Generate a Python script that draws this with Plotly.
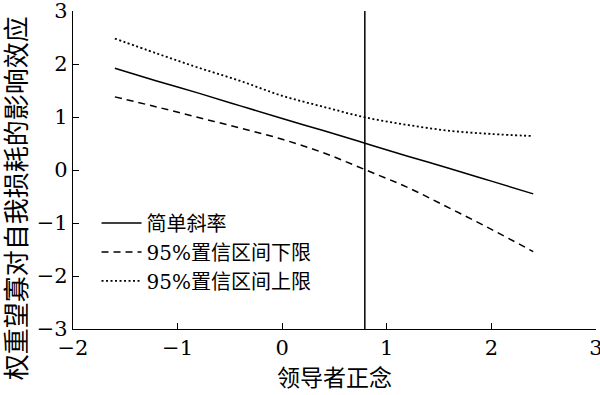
import plotly.graph_objects as go

# data
x_vals = [-1.6, -1.2, -0.8, -0.4, 0.0, 0.4, 0.8, 1.2, 1.6, 2.0, 2.4]
simple_slope = [1.92, 1.68, 1.45, 1.21, 0.97, 0.74, 0.50, 0.26, 0.03, -0.21, -0.45]
ci_lower = [1.38, 1.19, 0.99, 0.79, 0.58, 0.32, 0.00, -0.33, -0.72, -1.12, -1.54]
ci_upper = [2.48, 2.20, 1.93, 1.68, 1.40, 1.19, 0.99, 0.85, 0.74, 0.68, 0.64]
vline_x = 0.79
names = ["简单斜率", "95%置信区间下限", "95%置信区间上限"]
x_ticks = [-2, -1, 0, 1, 2, 3]
y_ticks = [-3, -2, -1, 0, 1, 2, 3]
x_title = "领导者正念"
y_title = "权重望寡对自我损耗的影响效应"

FONT = "DejaVu Serif, Noto Sans CJK SC, serif"
NUMFONT = "DejaVu Serif, serif"

fig = go.Figure()
fig.add_trace(go.Scatter(x=x_vals, y=simple_slope, mode="lines", name=names[0],
                         line=dict(color="black", width=1.5), line_shape="spline"))
fig.add_trace(go.Scatter(x=x_vals, y=ci_lower, mode="lines", name=names[1],
                         line=dict(color="black", width=1.5, dash="7px,5px"), line_shape="spline"))
fig.add_trace(go.Scatter(x=x_vals, y=ci_upper, mode="lines", name=names[2],
                         line=dict(color="black", width=1.8, dash="2px,2.5px"), line_shape="spline"))
fig.add_trace(go.Scatter(x=[vline_x, vline_x], y=[y_ticks[0], y_ticks[-1]], mode="lines",
                         showlegend=False, line=dict(color="black", width=1.5)))

fig.update_layout(
    width=600, height=395,
    margin=dict(l=73, r=4, t=11, b=66, autoexpand=False),
    paper_bgcolor="white", plot_bgcolor="white",
    font=dict(family=FONT, size=21, color="black"),
    showlegend=True,
    legend=dict(x=0.045, y=0.395, xanchor="left", yanchor="top",
                bgcolor="rgba(0,0,0,0)", font=dict(size=20, family=FONT),
                tracegroupgap=0, itemwidth=40),
)
fig.update_xaxes(range=[-2, 3], tickvals=x_ticks, showgrid=False, zeroline=False,
                 automargin=False,
                 showline=True, linecolor="black", linewidth=1.3, ticks="inside",
                 ticklen=6, tickwidth=1.3, tickcolor="black", ticklabeloverflow="allow",
                 tickfont=dict(size=21, family=NUMFONT),
                 title=dict(text=x_title, font=dict(size=23, family=FONT), standoff=10))
fig.update_yaxes(range=[-3, 3], tickvals=y_ticks, showgrid=False, zeroline=False,
                 automargin=False,
                 showline=True, linecolor="black", linewidth=1.3, ticks="inside",
                 ticklen=6, tickwidth=1.3, tickcolor="black", ticklabeloverflow="allow",
                 tickfont=dict(size=21, family=NUMFONT))
fig.add_annotation(text=y_title, textangle=-90, xref="paper", yref="paper",
                   x=-0.108, y=0.41, xanchor="center", yanchor="middle", showarrow=False,
                   font=dict(size=26, family=FONT))

fig.write_html("out.html")
